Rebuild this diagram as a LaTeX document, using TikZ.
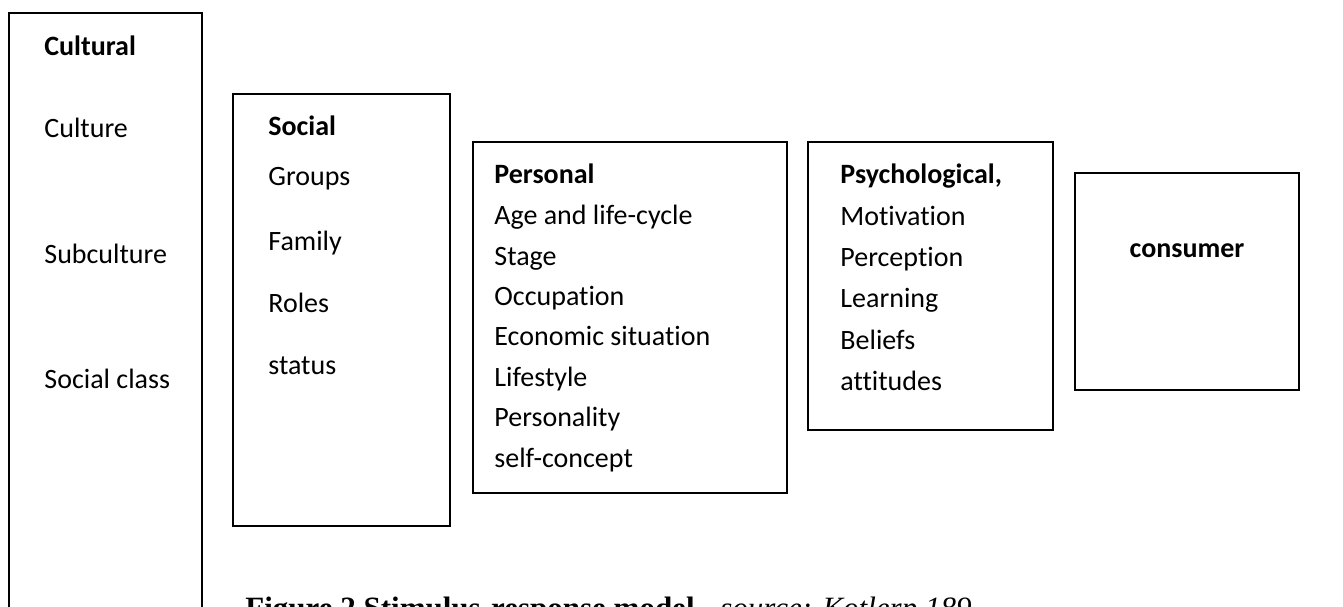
\documentclass[tikz,border=0pt]{standalone}
\usepackage{fontspec}
\setmainfont{Carlito}[Ligatures=NoCommon]
\newfontfamily\capfont{Liberation Serif}
\usetikzlibrary{positioning}
\tikzset{
  panel/.style={draw, line width=.85pt},
  item/.style={anchor=base west, inner sep=0pt, font=\fontsize{14}{16}\selectfont},
  head/.style={item, font=\fontsize{14}{16}\selectfont\bfseries},
}
\begin{document}
\begin{tikzpicture}[x=.5pt, y=-.5pt]
\useasboundingbox (0,0) rectangle (1343,606);
\clip (0,0) rectangle (1343,606);
\draw[panel] (9,13) rectangle (202,660);
\draw[panel] (233,94) rectangle (450,526);
\draw[panel] (473,142) rectangle (787,493);
\draw[panel] (808,142) rectangle (1053,430);
\draw[panel] (1075,173) rectangle (1299,390);
%
\node[head] (cultural) at (44,55) {Cultural};
\node[item] (culture) at (44,137) {Culture};
\node[item] (subculture) at (44,263) {Subculture};
\node[item] (socialclass) at (44,388) {Social class};
%
\node[head] (social) at (268,135) {Social};
\node[item] (groups) at (268,185) {Groups};
\node[item] (family) at (268,250) {Family};
\node[item] (roles) at (268,312) {Roles};
\node[item] (status) at (268,374) {status};
%
\node[head] (personal) at (494,183) {Personal};
\node[item] (age) at (494,224) {Age and life-cycle};
\node[item] (stage) at (494,265) {Stage};
\node[item] (occupation) at (494,305) {Occupation};
\node[item] (economic) at (494,345) {Economic situation};
\node[item] (lifestyle) at (494,386) {Lifestyle};
\node[item] (personality) at (494,426) {Personality};
\node[item] (selfconcept) at (494,467) {self-concept};
%
\node[head] (psych) at (840,183) {Psychological,};
\node[item] (motivation) at (840,225) {Motivation};
\node[item] (perception) at (840,266) {Perception};
\node[item] (learning) at (840,307) {Learning};
\node[item] (beliefs) at (840,349) {Beliefs};
\node[item] (attitudes) at (840,390) {attitudes};
%
\node[head, anchor=base] (consumer) at (1187,257) {consumer};
%
\node[anchor=base west, inner sep=0pt, font=\capfont\fontsize{15.5}{18}\selectfont] (caption) at (245,618)
  {\textbf{Figure 2 Stimulus-response model.}\hspace{9pt}\textit{source: Kotlerp.189}};
\end{tikzpicture}
\end{document}
